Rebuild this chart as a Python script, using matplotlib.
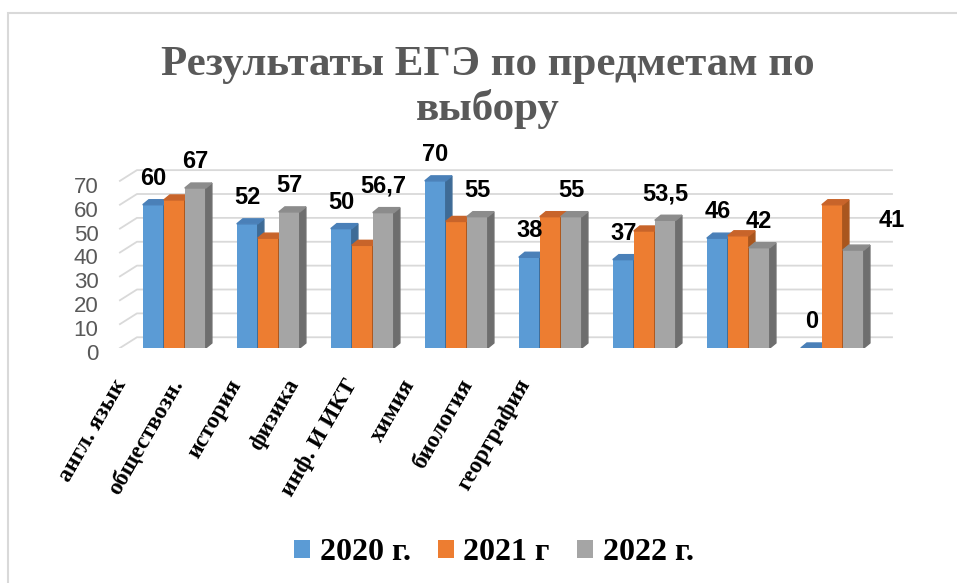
import numpy as np
import matplotlib.pyplot as plt
import matplotlib.transforms as mtrans
from matplotlib.patches import Polygon, Rectangle

subjects = ["англ. язык", "обществозн.", "история", "физика",
            "инф. И ИКТ", "химия", "биология", "георграфия"]
years = ["2020 г.", "2021 г", "2022 г."]
v2020 = [60, 52, 50, 70, 38, 37, 46, 0]
v2021 = [62, 46, 43, 53, 55, 49, 47, 60]
v2022 = [67, 57, 56.7, 55, 55, 53.5, 42, 41]
lab2020 = ["60", "52", "50", "70", "38", "37", "46", "0"]
lab2022 = ["67", "57", "56,7", "55", "55", "53,5", "42", "41"]
yticks = [0, 10, 20, 30, 40, 50, 60, 70]

front = ["#5B9BD5", "#ED7D31", "#A5A5A5"]
tops = ["#4A80B8", "#C8642A", "#8C8C8C"]
sides = ["#3E6B96", "#A9561E", "#6E6E6E"]

serif = "Liberation Serif"
sans = "Liberation Sans"

fig = plt.figure(figsize=(9.57, 5.83), dpi=100)
ax = fig.add_axes([100 / 957, 1 - 348 / 583, 800 / 957, 191 / 583])
ax.set_xlim(-0.79, 7.72)
ax.set_ylim(0, 80)

x = np.arange(len(subjects))
w = 0.2234
dx, dy = 0.065, 2.1   # fake 3d depth
gd = 4.5              # back wall offset of gridlines

# back wall gridlines with the little diagonal on the left
for v in yticks:
    ax.plot([-0.578, -0.397, 7.635], [v, v + gd, v + gd], color="#d9d9d9", lw=1.3, zorder=0)

series = [v2020, v2021, v2022]
bars = []
for k, vals in enumerate(series):
    pos = x + (k - 1) * w
    b = ax.bar(pos, vals, width=w, color=front[k], zorder=2 + k)
    bars.append(b)
    for c, h in zip(pos, vals):
        xl, xr = c - w / 2, c + w / 2
        ax.add_patch(Polygon([(xr, 0), (xr + dx, dy), (xr + dx, h + dy), (xr, h)],
                             closed=True, color=sides[k], zorder=2 + k))
        ax.add_patch(Polygon([(xl, h), (xl + dx, h + dy), (xr + dx, h + dy), (xr, h)],
                             closed=True, color=tops[k], zorder=2 + k))

# data labels (only 2020 and 2022 are labelled)
for i in range(len(subjects)):
    ax.annotate(lab2020[i], (x[i] - w, v2020[i]), xytext=(0, 19), textcoords="offset points",
                ha="center", va="center", fontsize=17, fontweight="bold", family=sans, zorder=10)
    off = (28, 21.5) if i == 7 else (0, 19)
    ax.annotate(lab2022[i], (x[i] + w, v2022[i]), xytext=off, textcoords="offset points",
                ha="center", va="center", fontsize=17, fontweight="bold", family=sans, zorder=10)

# y axis
ax.set_yticks(yticks)
ax.set_yticklabels([str(t) for t in yticks], color="#595959", fontsize=16, family=sans)
ax.tick_params(axis="y", length=0, pad=1)
shift = mtrans.ScaledTranslation(0, -4 / 100, fig.dpi_scale_trans)
for lbl in ax.get_yticklabels():
    lbl.set_transform(lbl.get_transform() + shift)
ax.set_xticks([])
for s in ax.spines.values():
    s.set_visible(False)

# category labels (rotated, shifted like in the original)
for i, name in enumerate(subjects):
    ax.text(-0.66 + 0.614 * i, -0.145, name, transform=ax.get_xaxis_transform(),
            rotation=60, rotation_mode="anchor", ha="right", va="top",
            fontsize=17, fontweight="bold", family=serif)

fig.text(0.51, 1 - 46 / 583, "Результаты ЕГЭ по предметам по\nвыбору", ha="center", va="top",
         fontsize=31, fontweight="bold", family=serif, color="#595959", linespacing=1.15)

fig.legend(bars, years, loc="center", bbox_to_anchor=(0.516, 0.052), ncol=3, frameon=False,
           prop={"family": serif, "weight": "bold", "size": 23},
           handlelength=0.5, handleheight=0.5, handletextpad=0.3, columnspacing=0.85)

fig.add_artist(Rectangle((8 / 957, -0.1), 2, 1.1 - 13 / 583, transform=fig.transFigure,
                         fill=False, ec="#d9d9d9", lw=1.5))

fig.savefig("out.png", dpi=100)
